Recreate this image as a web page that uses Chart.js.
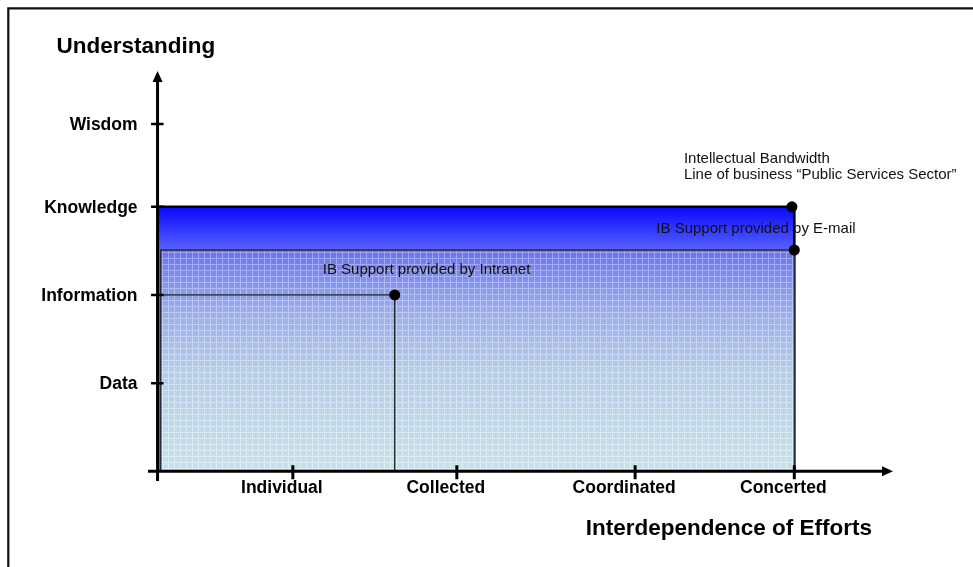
<!DOCTYPE html>
<html>
<head>
<meta charset="utf-8">
<script src="https://cdn.jsdelivr.net/npm/chart.js@4"></script>
<style>
  html, body { margin: 0; padding: 0; background: #fff; }
  #wrap { position: relative; width: 973px; height: 567px; }
</style>
</head>
<body>
<div id="wrap"><canvas id="c"></canvas></div>
<script>
// Horizontal axis: interdependence of efforts
const effortLabels = ['Individual', 'Collected', 'Coordinated', 'Concerted'];
const effortValues = [0.85, 1.88, 3.0, 4.0];

// Vertical axis: levels of understanding
const understandingLabels = ['Data', 'Information', 'Knowledge', 'Wisdom'];
const understandingValues = [1.0, 2.0, 3.0, 3.94];

// Intellectual bandwidth reached by each channel
const bandwidthNames = ['Line of business', 'E-mail', 'Intranet'];
const bandwidthEffort = [3.985, 4.0, 1.49];
const bandwidthUnderstanding = [3.0, 2.51, 2.0];
const bandwidthStart = [0, 0.02, 0];

// Axis extents (arrow tips and the small overhang past the origin)
const effortRange = [-0.06, 4.62];
const understandingRange = [-0.11, 4.54];

const FONT = '"Liberation Sans", Arial, Helvetica, sans-serif';

const canvas = document.getElementById('c');
const ctx0 = canvas.getContext('2d');

// Fine mesh texture laid over the e-mail band
function makeTexture() {
  const t = document.createElement('canvas');
  t.width = 6; t.height = 6;
  const g = t.getContext('2d');
  g.fillStyle = 'rgba(255,255,255,0.30)';
  g.fillRect(0, 0, 6, 1);
  g.fillRect(0, 1, 1, 5);
  g.fillStyle = 'rgba(30,40,120,0.10)';
  for (let y = 1; y < 6; y++) for (let x = 1; x < 6; x++) if ((x + y) % 2 === 0) g.fillRect(x, y, 1, 1);
  return ctx0.createPattern(t, 'repeat');
}
const texture = makeTexture();

// Outline of a band: from the start of effort up to its understanding level, across, and down
function band(i) {
  const s = bandwidthStart[i], e = Math.max(bandwidthEffort[i], 4.0), u = bandwidthUnderstanding[i];
  if (i === 2) return [{x: s, y: u}, {x: bandwidthEffort[i], y: u}, {x: bandwidthEffort[i], y: 0}];
  if (s > 0) return [{x: s, y: 0}, {x: s, y: u}, {x: e, y: u}, {x: e, y: 0}];
  return [{x: s, y: u}, {x: e, y: u}, {x: e, y: 0}];
}

function vGradient(chart, fromVal, toVal, stops) {
  const y = chart.scales.y;
  if (!y || !chart.chartArea) return 'rgba(0,0,0,0)';
  const g = chart.ctx.createLinearGradient(0, y.getPixelForValue(fromVal), 0, y.getPixelForValue(toVal));
  stops.forEach(([p, c]) => g.addColorStop(p, c));
  return g;
}

const bandLine = { pointRadius: 0, pointHoverRadius: 0, tension: 0, clip: false, borderJoinStyle: 'miter' };

const datasets = [
  {
    label: 'Bandwidth points', type: 'scatter',
    data: bandwidthNames.map((n, i) => ({x: bandwidthEffort[i], y: bandwidthUnderstanding[i]})),
    pointRadius: 5.5, pointHoverRadius: 5.5, backgroundColor: '#000', borderWidth: 0,
    clip: false, order: 0
  },
  Object.assign({
    label: bandwidthNames[2], data: band(2), fill: false,
    borderColor: '#1a1a1a', borderWidth: 1.3, order: 1
  }, bandLine),
  Object.assign({
    label: bandwidthNames[1] + ' mesh', data: band(1), fill: 'origin',
    backgroundColor: texture, borderColor: '#2a2a40', borderWidth: 1.5, order: 2
  }, bandLine),
  Object.assign({
    label: bandwidthNames[1], data: band(1), fill: 'origin', borderWidth: 0,
    backgroundColor: (c) => vGradient(c.chart, bandwidthUnderstanding[1], 0, [
      [0, 'rgb(110,120,242)'], [0.25, 'rgb(158,176,240)'], [0.55, 'rgb(190,214,238)'], [1, 'rgb(210,236,240)']
    ]),
    order: 3
  }, bandLine),
  Object.assign({
    label: bandwidthNames[0], data: band(0), fill: 'origin',
    borderColor: '#000', borderWidth: 2.6,
    backgroundColor: (c) => vGradient(c.chart, bandwidthUnderstanding[0], bandwidthUnderstanding[1], [
      [0, 'rgb(8,8,255)'], [1, 'rgb(88,98,255)']
    ]),
    order: 4
  }, bandLine)
];

// Text notes attached to a bandwidth point: [point index, dx, dy, lines]
const notes = [
  [0, -108, -48, ['Intellectual Bandwidth', 'Line of business \u201cPublic Services Sector\u201d']],
  [1, -138, -21, ['IB Support provided by E-mail']],
  [2, -72, -25, ['IB Support provided by Intranet']]
];

const axesPlugin = {
  id: 'arrowAxes',
  beforeDraw(chart) {
    const c = chart.ctx;
    c.save();
    c.strokeStyle = '#111';
    c.lineWidth = 2.2;
    c.beginPath();
    c.moveTo(8.3, chart.height);
    c.lineTo(8.3, 8.3);
    c.lineTo(chart.width, 8.3);
    c.stroke();
    c.restore();
  },
  afterDatasetsDraw(chart) {
    const c = chart.ctx, xs = chart.scales.x, ys = chart.scales.y;
    const x0 = xs.getPixelForValue(0), y0 = ys.getPixelForValue(0);
    const xL = xs.getPixelForValue(effortRange[0]), xR = xs.getPixelForValue(effortRange[1]);
    const yB = ys.getPixelForValue(understandingRange[0]), yT = ys.getPixelForValue(understandingRange[1]);
    c.save();
    c.strokeStyle = '#000';
    c.fillStyle = '#000';
    c.lineCap = 'butt';

    // axis lines
    c.lineWidth = 3;
    c.beginPath();
    c.moveTo(xL, y0); c.lineTo(xR - 8, y0);
    c.moveTo(x0, yB); c.lineTo(x0, yT + 8);
    c.stroke();

    // arrowheads
    c.beginPath();
    c.moveTo(xR, y0); c.lineTo(xR - 11, y0 - 5); c.lineTo(xR - 11, y0 + 5); c.closePath();
    c.moveTo(x0, yT); c.lineTo(x0 - 5, yT + 11); c.lineTo(x0 + 5, yT + 11); c.closePath();
    c.fill();

    // tick marks
    c.lineWidth = 3;
    c.beginPath();
    effortValues.forEach(v => {
      const px = xs.getPixelForValue(v);
      c.moveTo(px, y0 - 6); c.lineTo(px, y0 + 8);
    });
    c.stroke();
    c.lineWidth = 2.5;
    c.beginPath();
    understandingValues.forEach(v => {
      const py = ys.getPixelForValue(v);
      c.moveTo(x0 - 6.5, py); c.lineTo(x0 + 6, py);
    });
    c.stroke();

    // tick labels
    c.font = 'bold 17.5px ' + FONT;
    c.textBaseline = 'middle';
    c.textAlign = 'center';
    effortLabels.forEach((t, i) => c.fillText(t, xs.getPixelForValue(effortValues[i]) - 11, y0 + 17));
    c.textAlign = 'right';
    understandingLabels.forEach((t, i) => c.fillText(t, x0 - 20, ys.getPixelForValue(understandingValues[i]) + 1));

    // axis titles
    c.font = 'bold 22.5px ' + FONT;
    c.textAlign = 'left';
    c.fillText('Understanding', x0 - 101, yT - 24);
    c.textAlign = 'right';
    c.fillText('Interdependence of Efforts', xR - 21, y0 + 57);

    // notes
    c.font = '15px ' + FONT;
    c.textAlign = 'left';
    c.fillStyle = '#111';
    notes.forEach(([i, dx, dy, lines]) => {
      const px = xs.getPixelForValue(bandwidthEffort[i]);
      const py = ys.getPixelForValue(bandwidthUnderstanding[i]);
      lines.forEach((t, k) => c.fillText(t, px + dx, py + dy + k * 16));
    });
    c.restore();
  }
};

new Chart(canvas, {
  type: 'line',
  data: { datasets },
  options: {
    responsive: true,
    maintainAspectRatio: false,
    animation: false,
    events: [],
    layout: { padding: { left: 148, right: 80, top: 71, bottom: 86 } },
    scales: {
      x: { type: 'linear', min: effortRange[0], max: effortRange[1], display: false },
      y: { type: 'linear', min: understandingRange[0], max: understandingRange[1], display: false }
    },
    plugins: {
      legend: { display: false },
      tooltip: { enabled: false },
      filler: { propagate: false }
    }
  },
  plugins: [axesPlugin]
});
</script>
</body>
</html>
